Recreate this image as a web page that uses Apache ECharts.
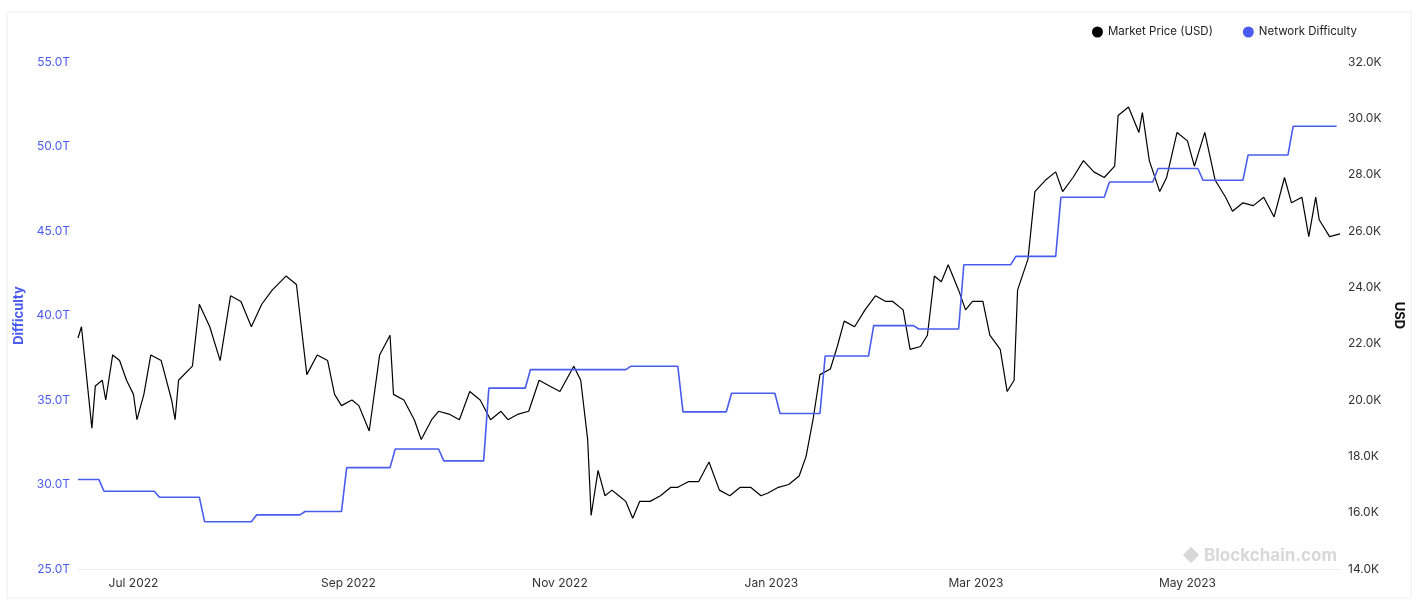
<!DOCTYPE html>
<html><head><meta charset="utf-8">
<script src="https://cdn.jsdelivr.net/npm/echarts@6/dist/echarts.min.js"></script>
<style>html,body{margin:0;padding:0;background:#fff}#c{width:1417px;height:601px}</style>
</head><body><div id="c"></div>
<script>
const startDate = '2022-06-15';
const priceDays = [0,1,4,5,7,8,10,12,14,16,17,19,21,24,27,28,29,33,35,38,41,44,47,50,53,56,60,63,66,69,72,74,76,79,81,84,87,90,91,94,97,99,102,104,107,110,113,116,119,122,124,127,130,133,136,139,143,145,147,148,150,152,154,156,158,160,162,165,168,171,173,176,179,182,185,188,191,194,197,199,202,205,208,210,212,214,217,219,221,224,227,230,233,235,238,240,243,245,247,249,251,254,256,258,261,263,266,268,270,271,274,276,279,282,284,287,290,293,296,299,300,303,306,307,309,312,314,317,320,322,325,328,331,333,336,339,342,345,348,350,353,355,357,358,361,364];
const priceValues = [22.2,22.6,19.0,20.5,20.7,20.0,21.6,21.4,20.7,20.2,19.3,20.2,21.6,21.4,20.0,19.3,20.7,21.2,23.4,22.6,21.4,23.7,23.5,22.6,23.4,23.9,24.4,24.1,20.9,21.6,21.4,20.2,19.8,20.0,19.8,18.9,21.6,22.3,20.2,20.0,19.3,18.6,19.3,19.6,19.5,19.3,20.3,20.0,19.3,19.6,19.3,19.5,19.6,20.7,20.5,20.3,21.2,20.7,18.6,15.9,17.5,16.6,16.8,16.6,16.4,15.8,16.4,16.4,16.6,16.9,16.9,17.1,17.1,17.8,16.8,16.6,16.9,16.9,16.6,16.7,16.9,17.0,17.3,18.0,19.3,20.9,21.1,21.9,22.8,22.6,23.2,23.7,23.5,23.5,23.2,21.8,21.9,22.3,24.4,24.2,24.8,23.9,23.2,23.5,23.5,22.3,21.8,20.3,20.7,23.9,25.0,27.4,27.8,28.1,27.4,27.9,28.5,28.1,27.9,28.3,30.1,30.4,29.5,30.2,28.5,27.4,27.9,29.5,29.2,28.3,29.5,27.8,27.2,26.7,27.0,26.9,27.2,26.5,27.9,27.0,27.2,25.8,27.2,26.4,25.8,25.9];
const diffDays = [0,6,22,35,50,64,76,90,104,117,129,158,173,187,201,214,228,241,254,269,282,296,310,323,336,349,363];
const diffValues = [30.3,29.6,29.25,27.8,28.2,28.4,31.0,32.1,31.4,35.7,36.8,37.0,34.3,35.4,34.2,37.6,39.4,39.2,43.0,43.5,47.0,47.9,48.7,48.0,49.5,51.2,51.2];
const xLabels = {'2022-07':'Jul 2022','2022-09':'Sep 2022','2022-11':'Nov 2022','2023-01':'Jan 2023','2023-03':'Mar 2023','2023-05':'May 2023'};

const t0 = Date.parse(startDate+'T00:00:00Z');
const day = 86400000;
const priceData = priceDays.map((d,i)=>[t0+d*day, priceValues[i]*1000]);
// difficulty: each level holds until the next adjustment, with a short ramp (as in 7-day average)
const diffData = [];
for (let i=0;i<diffDays.length-1;i++){
  const s = i===0 ? diffDays[i] : diffDays[i]+1.5;
  diffData.push([t0+s*day, diffValues[i]*1e12]);
  diffData.push([t0+diffDays[i+1]*day, diffValues[i]*1e12]);
}
diffData.push([t0+diffDays[diffDays.length-1]*day, diffValues[diffValues.length-1]*1e12]);
const blue = '#4a5cf0';
const chart = echarts.init(document.getElementById('c'));
chart.setOption({
  animation:false,
  textStyle:{fontFamily:'Inter, Roboto, sans-serif'},
  legend:{top:21,right:55,itemWidth:11,itemHeight:11,itemGap:30,icon:'circle',textStyle:{fontSize:11.5,color:'#222'},
    data:['Market Price (USD)','Network Difficulty']},
  grid:{left:78,right:77,top:62,bottom:32},
  xAxis:{type:'time',min:t0,max:t0+364*day,splitLine:{show:false},axisTick:{show:false},
    axisLine:{lineStyle:{color:'#eee'}},
    axisLabel:{color:'#333',fontSize:12,hideOverlap:false,formatter:v=>{const d=new Date(v);const k=d.getUTCFullYear()+'-'+String(d.getUTCMonth()+1).padStart(2,'0');return (d.getUTCDate()===1&&xLabels[k])?xLabels[k]:'';}},
    minInterval:30*day},
  yAxis:[
    {type:'value',min:25e12,max:55e12,interval:5e12,position:'left',name:'Difficulty',nameLocation:'middle',nameGap:52,
     nameTextStyle:{color:blue,fontWeight:'bold',fontSize:13},splitLine:{show:false},
     axisLabel:{color:blue,fontSize:12,formatter:v=>(v/1e12).toFixed(1)+'T'}},
    {type:'value',min:14000,max:32000,interval:2000,position:'right',name:'USD',nameLocation:'middle',nameGap:52,nameRotate:-90,
     nameTextStyle:{color:'#111',fontWeight:'bold',fontSize:13},splitLine:{show:false},
     axisLabel:{color:'#333',fontSize:12,formatter:v=>(v/1000).toFixed(1)+'K'}}
  ],
  graphic:[{type:'text',right:80,bottom:37,style:{text:'◆ Blockchain.com',fill:'#d8d8d8',font:'bold 17px Inter, sans-serif'}},
    {type:'rect',shape:{x:7,y:12,width:1404,height:586},style:{fill:'none',stroke:'#eee'}}],
  series:[
    {name:'Market Price (USD)',type:'line',yAxisIndex:1,data:priceData,showSymbol:false,color:'#000',lineStyle:{width:1.2,color:'#000'}},
    {name:'Network Difficulty',type:'line',yAxisIndex:0,data:diffData,showSymbol:false,color:blue,lineStyle:{width:1.6,color:blue}}
  ]
});
</script></body></html>
